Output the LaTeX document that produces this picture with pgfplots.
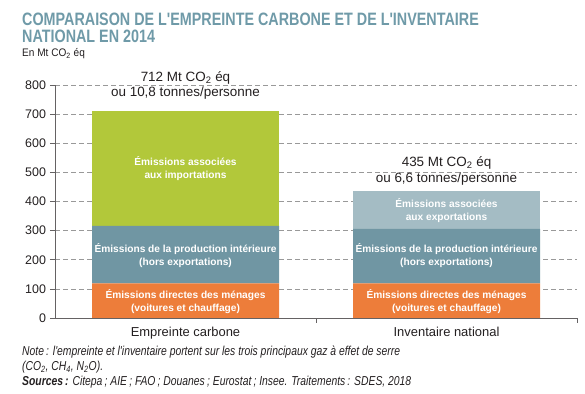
\documentclass[border=0pt]{standalone}
\usepackage{pgfplots}
\pgfplotsset{compat=1.18}
\usepackage{fontspec}
\setmainfont{Liberation Sans}
\newfontfamily\condensed{Liberation Sans}[FakeStretch=0.8]
\newfontfamily\semicond{Liberation Sans}[FakeStretch=0.92]
\definecolor{titlec}{RGB}{111,154,168}
\definecolor{corange}{RGB}{237,125,58}
\definecolor{csteel}{RGB}{112,150,163}
\definecolor{cgreen}{RGB}{178,200,58}
\definecolor{clight}{RGB}{164,188,196}
\definecolor{ctext}{RGB}{35,31,32}
\begin{document}
\begin{tikzpicture}
\path[use as bounding box] (0bp,0bp) rectangle (585bp,394bp);
\node[anchor=base west, inner sep=0, font=\condensed\bfseries\fontsize{18}{18}\selectfont, text=titlec] at (22bp,368bp) {COMPARAISON DE L'EMPREINTE CARBONE ET DE L'INVENTAIRE};
\node[anchor=base west, inner sep=0, font=\condensed\bfseries\fontsize{18}{18}\selectfont, text=titlec] at (22bp,351bp) {NATIONAL EN 2014};
\node[anchor=base west, inner sep=0, font=\semicond\fontsize{11}{12}\selectfont, text=ctext] at (22bp,337.5bp) {En Mt CO\textsubscript{2} éq};
\begin{axis}[
  at={(55bp,76bp)}, anchor=south west,
  scale only axis, width=522bp, height=233bp,
  xmin=-0.5, xmax=1.5, ymin=0, ymax=800,
  ybar stacked, bar width=187bp,
  ytick={0,100,...,800},
  xtick={0,1}, xticklabels={Empreinte carbone, Inventaire national},
  xtick style={draw=none},
  extra x ticks={0.5,1.5}, extra x tick labels={},
  extra x tick style={major tick length=5bp, tick align=outside, xtick style={draw=ctext!70, line width=0.7pt}},
  axis x line=bottom, axis y line=left,
  axis line style={-, draw=ctext!70, line width=0.7pt},
  tick align=outside, major tick length=5bp,
  ytick style={draw=ctext!70, line width=0.7pt},
  ymajorgrids, grid style={dash pattern=on 5bp off 3bp, draw=gray!80, line width=0.7pt},
  yticklabel style={font=\fontsize{12.5}{13}\selectfont, text=ctext, xshift=-0.5bp},
  xticklabel style={font=\fontsize{13}{15}\selectfont, text=ctext, yshift=-0.5bp},
  /pgf/number format/assume math mode=true,
  clip=false,
]
\addplot[fill=corange, draw=none] coordinates {(0,119) (1,119)};
\addplot[fill=csteel, draw=none] coordinates {(0,197) (1,187)};
\addplot[fill=cgreen, draw=none] coordinates {(0,396) (1,0)};
\addplot[fill=clight, draw=none] coordinates {(0,0) (1,129)};
\coordinate (l1) at (axis cs:0,512);
\coordinate (l2) at (axis cs:0,214);
\coordinate (l3) at (axis cs:0,55);
\coordinate (r1) at (axis cs:1,369);
\coordinate (r2) at (axis cs:1,213);
\coordinate (r3) at (axis cs:1,55);
\coordinate (a1) at (axis cs:0,798);
\coordinate (a2) at (axis cs:1,505);
\end{axis}
\tikzset{inl/.style={font=\bfseries\fontsize{10.2}{13}\selectfont, text=white, align=center, inner sep=0}}
\node[inl] at (l1) {Émissions associées\\aux importations};
\node[inl] at (l2) {Émissions de la production intérieure\\(hors exportations)};
\node[inl] at (l3) {Émissions directes des ménages\\(voitures et chauffage)};
\node[inl] at (r1) {Émissions associées\\aux exportations};
\node[inl] at (r2) {Émissions de la production intérieure\\(hors exportations)};
\node[inl] at (r3) {Émissions directes des ménages\\(voitures et chauffage)};
\tikzset{ann/.style={font=\fontsize{13.5}{15.5}\selectfont, text=ctext, align=center, inner sep=0}}
\node[ann] at (a1) {712 Mt CO\textsubscript{2} éq\\ou 10,8 tonnes/personne};
\node[ann] at (a2) {435 Mt CO\textsubscript{2} éq\\ou 6,6 tonnes/personne};
\tikzset{nt/.style={anchor=base west, inner sep=0, font=\condensed\itshape\fontsize{13}{13}\selectfont, text=ctext}}
\node[nt] at (22bp,39bp) {Note\,: l'empreinte et l'inventaire portent sur les trois principaux gaz à effet de serre};
\node[nt] at (22bp,24bp) {(CO\textsubscript{2}, CH\textsubscript{4}, N\textsubscript{2}O).};
\node[nt] at (22bp,8.5bp) {\textbf{Sources\,:} Citepa\,; AIE\,; FAO\,; Douanes\,; Eurostat\,; Insee. Traitements\,: SDES, 2018};
\end{tikzpicture}
\end{document}
